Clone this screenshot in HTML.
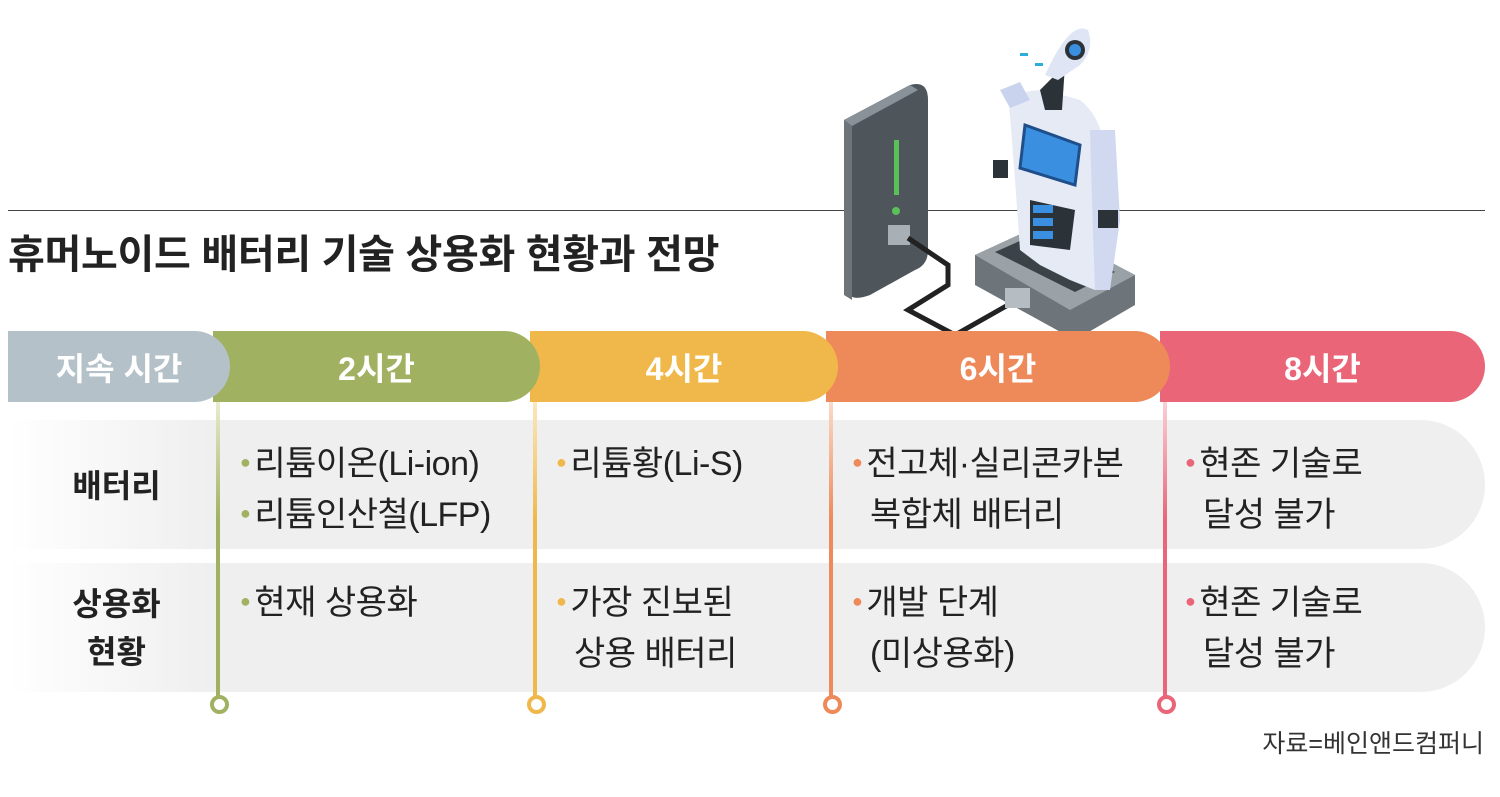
<!DOCTYPE html>
<html><head><meta charset="utf-8"><style>
body{margin:0;width:1500px;height:797px;background:#fff;overflow:hidden;position:relative;font-family:"Liberation Sans","Noto Sans CJK KR",sans-serif}
.abs{position:absolute}
.title{left:8px;top:222px;font-size:40px;font-weight:bold;color:#222;letter-spacing:-0.3px;white-space:nowrap}
.hr{left:8px;top:210px;width:1477px;height:1px;background:#444}
.pill{position:absolute;top:331px;height:71px;border-radius:0 36px 36px 0;color:#fff;font-weight:bold;font-size:32px;display:flex;align-items:center;justify-content:center;box-shadow:-4px 0 0 0 #fff}
.row{position:absolute;left:8px;width:1477px;height:129px;border-radius:0 65px 65px 0;background:linear-gradient(90deg,#fff 0px,#efefef 200px)}
.lab{position:absolute;left:14px;width:205px;text-align:center;font-weight:bold;font-size:32px;color:#222;line-height:48px}
.t{position:absolute;font-size:34px;color:#222;line-height:46px;white-space:nowrap;letter-spacing:-0.5px}
.t i{font-style:normal;font-size:18px;position:relative;top:-7px;margin-right:4px}
.vl{position:absolute;top:402px;width:4px;height:296px}
.dot{position:absolute;top:695px;width:11px;height:11px;border-radius:50%;background:#fff;border:4px solid}
</style></head><body>
<div class="abs hr"></div>
<div class="abs title">휴머노이드 배터리 기술 상용화 현황과 전망</div>

<svg class="abs" style="left:830px;top:20px" width="330" height="330" viewBox="0 0 330 330">
 <path d="M14 100 L80 65 Q98 60 98 80 L98 230 Q98 245 85 250 L40 275 Q14 285 14 260 Z" fill="#4e565c"/>
 <path d="M14 100 L80 65 L88 70 L22 106 Z" fill="#8a9299"/>
 <path d="M14 100 L22 106 L22 280 L14 275 Z" fill="#6d757b"/>
 <rect x="64" y="120" width="5" height="55" fill="#5cc05a"/>
 <circle cx="66" cy="191" r="4" fill="#5cc05a"/>
 <rect x="58" y="205" width="22" height="20" fill="#a8b0b6"/>
 <path d="M78 218 L118 245 L118 265 L78 290 L125 315 L178 285" fill="none" stroke="#222" stroke-width="5"/>
 <path d="M145 235 L210 205 L305 255 L305 285 L245 320 L145 265 Z" fill="#6d757b"/>
 <path d="M145 235 L210 205 L305 255 L240 290 Z" fill="#9aa2a8"/>
 <path d="M165 232 L210 212 L285 252 L245 272 Z" fill="#3c4348"/>
 <rect x="175" y="268" width="25" height="20" fill="#b6bdc2"/>
 <path d="M180 95 Q175 70 215 70 L250 80 Q275 100 275 140 L270 210 L265 270 L240 260 L210 245 L190 230 L185 160 Z" fill="#e6eaf5"/>
 <path d="M170 70 L190 62 L200 80 L180 88 Z" fill="#c9d3ee"/>
 <path d="M260 110 L285 110 L290 200 L280 270 L265 270 L262 180 Z" fill="#d0d9f0"/>
 <path d="M195 105 L250 125 L245 165 L190 148 Z" fill="#3a8fe0" stroke="#1f4f8a" stroke-width="3"/>
 <path d="M200 180 L245 190 L240 230 L200 225 Z" fill="#2c3338"/>
 <rect x="203" y="185" width="20" height="8" fill="#3a8fe0"/><rect x="203" y="198" width="20" height="8" fill="#3a8fe0"/><rect x="203" y="211" width="20" height="8" fill="#3a8fe0"/>
 <path d="M210 70 L235 45 L232 90 L215 90 Z" fill="#2c3338"/>
 <path d="M215 55 Q240 0 258 10 Q265 30 250 45 L228 60 Z" fill="#dfe5f5"/>
 <circle cx="245" cy="30" r="10" fill="#2c3338"/><circle cx="245" cy="30" r="6" fill="#3a8fe0"/>
 <rect x="190" y="33" width="8" height="3" fill="#2ab0d8"/><rect x="205" y="43" width="8" height="3" fill="#2ab0d8"/>
 <rect x="163" y="140" width="15" height="18" fill="#2c3338"/><rect x="268" y="190" width="20" height="18" fill="#2c3338"/>
</svg>

<div class="row" style="top:420px"></div>
<div class="row" style="top:563px"></div>

<div class="pill" style="left:1160px;width:325px;background:#e96577">8시간</div>
<div class="pill" style="left:826px;width:344px;background:#ee8a5a">6시간</div>
<div class="pill" style="left:530px;width:308px;background:#f0b84a">4시간</div>
<div class="pill" style="left:213px;width:327px;background:#a0b262">2시간</div>
<div class="pill" style="left:8px;width:222px;background:#b4c1c9;box-shadow:none">지속 시간</div>

<div class="vl" style="left:216px;background:linear-gradient(#e8eccf,#a0b262 40%)"></div>
<div class="vl" style="left:533px;background:linear-gradient(#fbe8c0,#f0b84a 40%)"></div>
<div class="vl" style="left:829px;background:linear-gradient(#fadac9,#ee8a5a 40%)"></div>
<div class="vl" style="left:1163px;background:linear-gradient(#f9d0d6,#e96577 40%)"></div>
<div class="dot" style="left:210px;border-color:#a0b262"></div>
<div class="dot" style="left:527px;border-color:#f0b84a"></div>
<div class="dot" style="left:823px;border-color:#ee8a5a"></div>
<div class="dot" style="left:1157px;border-color:#e96577"></div>

<div class="lab" style="top:462px">배터리</div>
<div class="lab" style="top:580px">상용화<br>현황</div>

<div class="t" style="left:240px;top:441px"><i style="color:#a0b262">●</i>리튬이온(Li-ion)<br><i style="color:#a0b262">●</i>리튬인산철(LFP)</div>
<div class="t" style="left:240px;top:580px"><i style="color:#a0b262">●</i>현재 상용화</div>
<div class="t" style="left:556px;top:441px"><i style="color:#f0b84a">●</i>리튬황(Li-S)</div>
<div class="t" style="left:556px;top:580px"><i style="color:#f0b84a">●</i>가장 진보된<br><span style="margin-left:18px">상용 배터리</span></div>
<div class="t" style="left:852px;top:441px"><i style="color:#ee8a5a">●</i>전고체·실리콘카본<br><span style="margin-left:18px">복합체 배터리</span></div>
<div class="t" style="left:852px;top:580px"><i style="color:#ee8a5a">●</i>개발 단계<br><span style="margin-left:18px">(미상용화)</span></div>
<div class="t" style="left:1185px;top:441px"><i style="color:#e96577">●</i>현존 기술로<br><span style="margin-left:18px">달성 불가</span></div>
<div class="t" style="left:1185px;top:580px"><i style="color:#e96577">●</i>현존 기술로<br><span style="margin-left:18px">달성 불가</span></div>

<div class="abs" style="right:16px;top:724px;font-size:25px;color:#333">자료=베인앤드컴퍼니</div>
</body></html>
